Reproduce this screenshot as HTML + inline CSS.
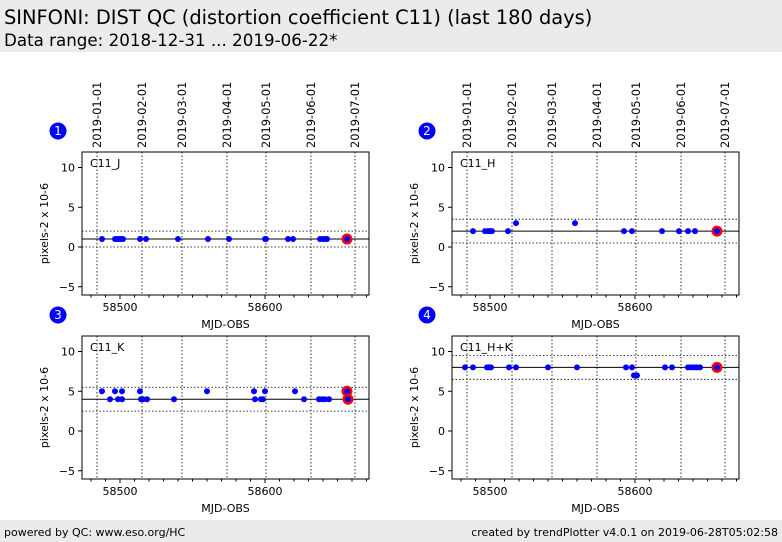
<!DOCTYPE html><html><head><style>body{margin:0;background:#fff}svg{display:block;font-family:"DejaVu Sans","Liberation Sans",sans-serif}</style></head><body>
<svg id="s" width="782" height="542" xmlns="http://www.w3.org/2000/svg">
<rect x="0" y="0" width="782" height="52" fill="#ebebeb"/>
<text x="4" y="24" font-size="19.4">SINFONI: DIST QC (distortion coefficient C11) (last 180 days)</text>
<text x="4" y="46" font-size="16.7">Data range: 2018-12-31 ... 2019-06-22*</text>
<rect x="0" y="520" width="782" height="22" fill="#ebebeb"/>
<text x="4" y="536" font-size="11">powered by QC: www.eso.org/HC</text>
<text x="778" y="536" font-size="11" text-anchor="end">created by trendPlotter v4.0.1 on 2019-06-28T05:02:58</text>
<g id="g"></g>
</svg>
<script>
var panels=[
{ox:0,oy:0,n:"1",lab:"C11_J",c:1,d:[2,0],pts:[[102,1],[115,1],[117,1],[119,1],[121,1],[123,1],[140,1],[146,1],[178,1],[208,1],[229,1],[265,1],[266,1],[288,1],[293,1],[320,1],[323,1],[325,1],[327,1]],red:[[347,1]]},
{ox:370,oy:0,n:"2",lab:"C11_H",c:2,d:[3.5,0.5],pts:[[103,2],[115,2],[118,2],[120,2],[122,2],[138,2],[146,3],[205,3],[254,2],[262,2],[292,2],[309,2],[318,2],[325,2]],red:[[347,2]]},
{ox:0,oy:184,n:"3",lab:"C11_K",c:4,d:[5.5,2.5],pts:[[102,5],[110,4],[115,5],[118,4],[122,5],[122,4],[140,5],[141,4],[143,4],[147,4],[174,4],[207,5],[254,5],[255,4],[261,4],[263,4],[265,5],[295,5],[304,4],[319,4],[322,4],[325,4],[329,4]],red:[[347,5],[348,4]]},
{ox:370,oy:184,n:"4",lab:"C11_H+K",c:8,d:[9.5,6.5],pts:[[95,8],[103,8],[117,8],[119,8],[121,8],[139,8],[146,8],[178,8],[207,8],[256,8],[262,8],[264,7],[267,7],[295,8],[302,8],[318,8],[321,8],[324,8],[327,8],[330,8]],red:[[347,8]]}];
var dates=[[97,"2019-01-01"],[142,"2019-02-01"],[182,"2019-03-01"],[227,"2019-04-01"],[266,"2019-05-01"],[311,"2019-06-01"],[355,"2019-07-01"]];
var h="";
panels.forEach(function(p){
 var L=82+p.ox,R=369+p.ox,T=152+p.oy,B=295+p.oy;
 function Y(v){return T+95-v*7.95;}
 function X(x){return x+p.ox;}
 h+='<g>';
 dates.forEach(function(d){var x=X(d[0]);h+='<line x1="'+x+'" y1="'+T+'" x2="'+x+'" y2="'+B+'" stroke="#000" stroke-width="0.8" stroke-dasharray="1.5,2"/>';
  if(p.oy==0)h+='<text transform="translate('+(x+4)+','+(T-4)+') rotate(-90)" font-size="11.4">'+d[1]+'</text>';});
 h+='<line x1="'+L+'" x2="'+R+'" y1="'+Y(p.c)+'" y2="'+Y(p.c)+'" stroke="#000" stroke-width="1"/>';
 p.d.forEach(function(v){h+='<line x1="'+L+'" x2="'+R+'" y1="'+Y(v)+'" y2="'+Y(v)+'" stroke="#000" stroke-width="0.8" stroke-dasharray="1.5,2"/>';});
 p.pts.forEach(function(q){h+='<circle cx="'+X(q[0])+'" cy="'+Y(q[1])+'" r="3" fill="#0000ff"/>';});
 p.red.forEach(function(q){h+='<circle cx="'+X(q[0])+'" cy="'+Y(q[1])+'" r="5.5" fill="#ff0000"/><circle cx="'+X(q[0])+'" cy="'+Y(q[1])+'" r="3" fill="#0000ff"/>';});
 h+='<rect x="'+L+'" y="'+T+'" width="'+(R-L)+'" height="'+(B-T)+'" fill="none" stroke="#000" stroke-width="1"/>';
 [10,5,0,-5].forEach(function(v){var y=Y(v);h+='<line x1="'+(L-4)+'" x2="'+L+'" y1="'+y+'" y2="'+y+'" stroke="#000"/><text x="'+(L-7)+'" y="'+(y+4)+'" font-size="11" text-anchor="end">'+(v<0?'\u2212'+(-v):v)+'</text>';});
 for(var m=58480;m<=58670;m+=10){var x=X(120+(m-58500)*1.45);var big=(m%100==0);h+='<line x1="'+x+'" x2="'+x+'" y1="'+B+'" y2="'+(B+(big?4:2.5))+'" stroke="#000"/>';if(big)h+='<text x="'+x+'" y="'+(B+16)+'" font-size="11" text-anchor="middle">'+m+'</text>';}
 h+='<text x="'+((L+R)/2)+'" y="'+(B+33)+'" font-size="11" text-anchor="middle">MJD-OBS</text>';
 h+='<text transform="translate('+(L-34)+','+((T+B)/2)+') rotate(-90)" font-size="11" text-anchor="middle">pixels-2 x 10-6</text>';
 h+='<text x="'+(L+8)+'" y="'+(T+15)+'" font-size="11">'+p.lab+'</text>';
 h+='<circle cx="'+(58+p.ox+(p.ox?-1:0))+'" cy="'+(132+p.oy-1)+'" r="8.5" fill="#0000ff"/><text x="'+(58+p.ox+(p.ox?-1:0))+'" y="'+(136+p.oy-1)+'" font-size="12" fill="#fff" text-anchor="middle">'+p.n+'</text>';
 h+='</g>';
});
document.getElementById("g").innerHTML=h;
</script>
</body></html>
